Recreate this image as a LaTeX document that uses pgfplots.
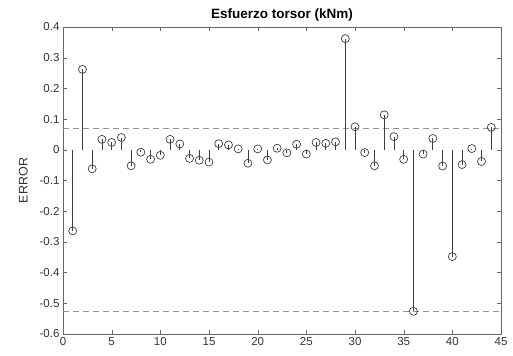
\documentclass[border=0pt]{standalone}
\usepackage{pgfplots}
\pgfplotsset{compat=1.18}
\usepackage{fontspec}
\setmainfont{Liberation Sans}
\begin{document}
\begin{tikzpicture}
\begin{axis}[
  name=ax,
  scale only axis,
  width=438pt, height=307pt,
  xmin=0, xmax=45, ymin=-0.6, ymax=0.4,
  xtick={0,5,...,45},
  ytick={-0.6,-0.5,...,0.4},
  yticklabel style={/pgf/number format/fixed,/pgf/number format/precision=1},
  /pgf/number format/assume math mode=true,
  tick align=inside,
  tick pos=both,
  major tick length=4pt,
  axis line style={black!60},
  tick style={black!60},
  ticklabel style={font=\fontsize{11.5}{13}\selectfont, text=black!80},
  title={\bfseries Esfuerzo torsor (kNm)},
  title style={font=\fontsize{13.5}{15}\selectfont, yshift=-4pt},
  ylabel={ERROR},
  ylabel style={font=\fontsize{12.5}{14}\selectfont, text=black!80, yshift=5pt},
]
\addplot[gray!85, dash pattern=on 6pt off 4pt, thin, forget plot] coordinates {(0,0.071) (45,0.071)};
\addplot[gray!85, dash pattern=on 6pt off 4pt, thin, forget plot] coordinates {(0,-0.526) (45,-0.526)};
\addplot[ycomb, black!75, line width=0.8pt, mark=o, mark size=4pt, mark options={solid, black!75, line width=0.7pt}] coordinates {
(1,-0.264) (2,0.262) (3,-0.062) (4,0.034) (5,0.024) (6,0.040) (7,-0.052) (8,-0.008)
(9,-0.031) (10,-0.018) (11,0.034) (12,0.019) (13,-0.028) (14,-0.034) (15,-0.040)
(16,0.020) (17,0.016) (18,0.003) (19,-0.044) (20,0.003) (21,-0.033) (22,0.005)
(23,-0.010) (24,0.018) (25,-0.014) (26,0.024) (27,0.021) (28,0.026) (29,0.362)
(30,0.075) (31,-0.009) (32,-0.052) (33,0.114) (34,0.043) (35,-0.031) (36,-0.526)
(37,-0.014) (38,0.037) (39,-0.053) (40,-0.348) (41,-0.048) (42,0.004) (43,-0.038)
(44,0.073)
};
\end{axis}
\path ([xshift=-63pt,yshift=-22pt]ax.south west) rectangle ([xshift=12pt,yshift=27pt]ax.north east);
\end{tikzpicture}
\end{document}
